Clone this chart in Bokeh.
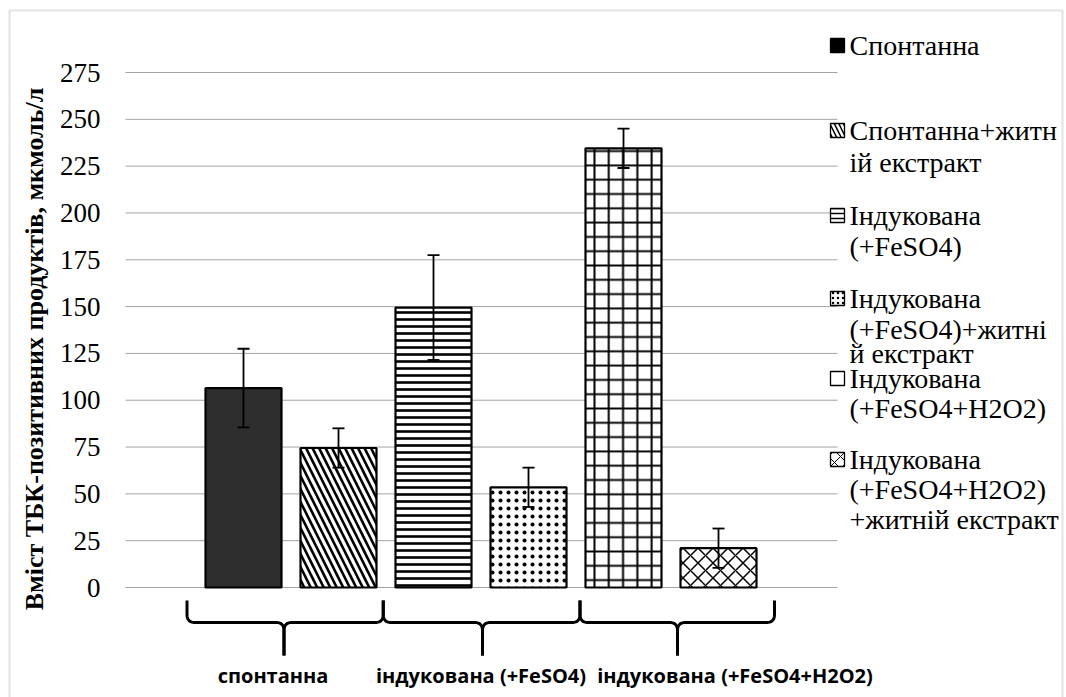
import numpy as np
from bokeh.plotting import figure
from bokeh.models import Range1d, FixedTicker, Whisker, TeeHead, ColumnDataSource, BoxAnnotation
from bokeh.core.properties import value
from bokeh.embed import file_html
from bokeh.resources import INLINE

# ---------------- data ----------------
series_names = [
    "Спонтанна",
    "Спонтанна+житній екстракт",
    "Індукована (+FeSO4)",
    "Індукована (+FeSO4)+житній екстракт",
    "Індукована (+FeSO4+H2O2)",
    "Індукована (+FeSO4+H2O2)+житній екстракт",
]
legend_lines = [
    ["Спонтанна"],
    ["Спонтанна+житн", "ій екстракт"],
    ["Індукована", "(+FeSO4)"],
    ["Індукована", "(+FeSO4)+житні", "й екстракт"],
    ["Індукована", "(+FeSO4+H2O2)"],
    ["Індукована", "(+FeSO4+H2O2)", "+житній екстракт"],
]
values = [106.5, 74.5, 149.5, 53.5, 234.5, 21.0]
errors = [21.0, 10.5, 28.0, 10.5, 10.5, 10.5]
group_labels = ["спонтанна", "індукована (+FeSO4)", "індукована (+FeSO4+H2O2)"]
y_ticks = [0, 25, 50, 75, 100, 125, 150, 175, 200, 225, 250, 275]
y_title = "Вміст ТБК-позитивних продуктів, мкмоль/л"

# ---------------- styles ----------------
fills = ["#2e2e2e", "white", "white", "white", "white", "white"]
hatches = [" ", "\\", "-", ".", "+", "x"]
hatch_scales = [12, 13, 7, 8, 14.3, 15]
hatch_weights = [1, 2.6, 2.6, 1.6, 2, 1.5]
leg_hatches = [" ", "\\", "-", ".", " ", "x"]
leg_hatch_scales = [6, 9, 5, 5, 6, 12]
leg_hatch_weights = [1, 1.5, 1.5, 1.2, 1, 1]

# ---------------- layout (canvas pixels) ----------------
W, H = 1066, 697
AXIS_PX = 125                        # canvas x where the value axis / gridlines start
X0_PX, X_STEP = 243.0, 95.0          # canvas x of first bar, px per bar slot
Y0_PX, Y_SCALE = 587.0, 515.0 / 275  # canvas y of zero, px per unit


def cx(px):
    return (px - X0_PX) / X_STEP


def cy(py):
    return (Y0_PX - py) / Y_SCALE


p = figure(
    width=W, height=H,
    x_range=Range1d(cx(0), cx(W)),
    y_range=Range1d(cy(H), cy(0)),
    output_backend="svg", toolbar_location=None,
    x_axis_location=None,
    min_border=0,
)
p.outline_line_color = None
p.background_fill_color = "white"
p.border_fill_color = "white"
p.xgrid.visible = False
p.ygrid.visible = False

ax = p.yaxis[0]
ax.fixed_location = cx(AXIS_PX)
ax.ticker = FixedTicker(ticks=y_ticks)
ax.axis_line_color = None
ax.major_tick_line_color = None
ax.minor_tick_line_color = None
ax.major_tick_out = 0
ax.major_tick_in = 0
ax.major_label_standoff = 25
ax.major_label_text_font = "Liberation Serif"
ax.major_label_text_font_size = "27px"
ax.major_label_text_color = "black"
ax.axis_label = y_title
ax.axis_label_text_font = "Liberation Serif"
ax.axis_label_text_font_style = "bold"
ax.axis_label_text_font_size = "26px"
ax.axis_label_text_color = "black"
ax.axis_label_standoff = 8

# outer chart border
p.add_layout(BoxAnnotation(left=9, right=1062, top=10, bottom=710,
                           left_units="canvas", right_units="canvas",
                           top_units="canvas", bottom_units="canvas",
                           fill_alpha=0, line_color="#a2a2a2", line_width=2,
                           level="overlay"))

# gridlines (plot area only, not under the legend)
GRID_RIGHT_PX = 837
n = len(y_ticks)
p.segment(x0=[cx(AXIS_PX)] * n, x1=[cx(GRID_RIGHT_PX)] * n, y0=y_ticks, y1=y_ticks,
          line_color="#a3a3a3", line_width=1)

# bars
idx = list(range(len(values)))
src = ColumnDataSource(dict(
    x=idx, top=values,
    upper=[v + e for v, e in zip(values, errors)],
    lower=[v - e for v, e in zip(values, errors)],
    fill=fills, hatch=hatches, hs=hatch_scales, hw=hatch_weights,
))
p.vbar(x="x", top="top", bottom=0, width=0.8, source=src,
       fill_color="fill", hatch_pattern="hatch", hatch_scale="hs", hatch_weight="hw",
       hatch_color="black", line_color="black", line_width=2.2)

wh = Whisker(source=src, base="x", upper="upper", lower="lower",
             line_color="black", line_width=1.8, level="overlay",
             upper_head=TeeHead(size=12, line_width=1.8, line_color="black"),
             lower_head=TeeHead(size=12, line_width=1.8, line_color="black"))
p.add_layout(wh)

# braces under the groups
BR_TOP, BR_MID, BR_BOT, BR_R = 600.0, 622.0, 655.0, 8.0
BR_OUTER = 97.0
brace_offsets_px = [-7.0, 1.5, 6.5]
stems = [X0_PX + X_STEP * (2 * g + 0.5) + brace_offsets_px[g] for g in range(len(group_labels))]
ends = [stems[0] - BR_OUTER] + [(a + b) / 2 for a, b in zip(stems[:-1], stems[1:])] + [stems[-1] + BR_OUTER]


def qbez(p0, p1, p2, k=10):
    t = np.linspace(0, 1, k)
    xs = (1 - t) ** 2 * p0[0] + 2 * (1 - t) * t * p1[0] + t ** 2 * p2[0]
    ys = (1 - t) ** 2 * p0[1] + 2 * (1 - t) * t * p1[1] + t ** 2 * p2[1]
    return list(xs), list(ys)


bx, by = [], []
for g, gc in enumerate(stems):
    for s, end in ((-1, ends[g]), (1, ends[g + 1])):
        xs, ys = [end], [BR_TOP]
        a, b = qbez((end, BR_MID - BR_R), (end, BR_MID), (end - s * BR_R, BR_MID))
        xs += a; ys += b
        a, b = qbez((gc + s * BR_R, BR_MID), (gc, BR_MID), (gc, BR_MID + BR_R))
        xs += a; ys += b
        xs.append(gc); ys.append(BR_BOT)
        bx.append([cx(v) for v in xs])
        by.append([cy(v) for v in ys])
p.multi_line(xs=bx, ys=by, line_color="black", line_width=3)

# group labels
LABEL_Y_PX = 675
label_offsets_px = [-18, 0, 64]
lab_x = [cx(X0_PX + X_STEP * (2 * g + 0.5) + label_offsets_px[g]) for g in range(len(group_labels))]
p.text(x=lab_x, y=[cy(LABEL_Y_PX)] * len(group_labels), text=group_labels,
       text_font=value("Open Sans"), text_font_style="bold", text_font_size="20px",
       text_align="center", text_baseline="middle", text_color="black")

# legend (drawn manually)
LEG_MARK_X, LEG_TEXT_X = 837, 849
leg_line_ys = [[45], [130, 162], [215, 246], [298, 329, 353], [378, 408], [459, 489, 519]]
mk_y = [cy(r[0]) for r in leg_line_ys]
p.rect(x=[cx(LEG_MARK_X)] * 6, y=mk_y, width=14, height=14,
       width_units="screen", height_units="screen",
       fill_color=["black"] + ["white"] * 5, hatch_pattern=leg_hatches,
       hatch_scale=leg_hatch_scales, hatch_weight=leg_hatch_weights, hatch_color="black",
       line_color="black", line_width=1.3)
tx, ty, tt = [], [], []
for lines, ys in zip(legend_lines, leg_line_ys):
    for t, yy in zip(lines, ys):
        tx.append(cx(LEG_TEXT_X)); ty.append(cy(yy)); tt.append(t)
p.text(x=tx, y=ty, text=tt, text_font=value("Liberation Serif"), text_font_size="28px",
       text_align="left", text_baseline="middle", text_color="black")

open("out.html", "w").write(file_html(p, INLINE))
